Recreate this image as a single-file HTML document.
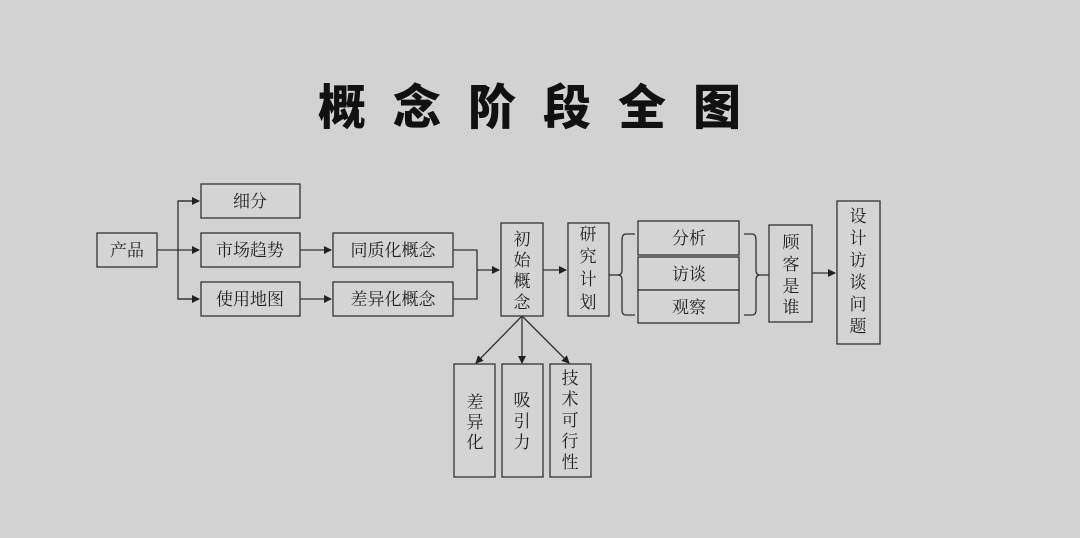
<!DOCTYPE html>
<html><head><meta charset="utf-8"><style>
body{margin:0;background:#d2d2d2;}
svg{display:block}
text{font-family:"Liberation Serif","Noto Serif CJK SC",serif;font-size:17px;fill:#222;}
.t{font-family:"Liberation Sans","Noto Sans CJK SC",sans-serif;font-size:48px;font-weight:900;fill:#111;}
rect{fill:#d4d4d4;stroke:#333;stroke-width:1.3}
line,path,polyline{stroke:#333;stroke-width:1.3;fill:none}
</style></head><body>
<svg width="1080" height="538" viewBox="0 0 1080 538">
<defs><marker id="a" markerWidth="8" markerHeight="8" refX="7" refY="4" orient="auto" markerUnits="userSpaceOnUse"><path d="M0,0 L8,4 L0,8 z" style="fill:#222;stroke:none"/></marker></defs>
<rect x="0" y="0" width="1080" height="538" style="fill:#d2d2d2;stroke:none"/>
<text class="t" x="318" y="124" letter-spacing="27">概念阶段全图</text>

<rect x="97" y="233" width="60" height="34"/><text x="127" y="256" text-anchor="middle">产品</text>
<rect x="201" y="184" width="99" height="34"/><text x="250" y="207" text-anchor="middle">细分</text>
<rect x="201" y="233" width="99" height="34"/><text x="250" y="256" text-anchor="middle">市场趋势</text>
<rect x="201" y="282" width="99" height="34"/><text x="250" y="305" text-anchor="middle">使用地图</text>
<rect x="333" y="233" width="120" height="34"/><text x="393" y="256" text-anchor="middle">同质化概念</text>
<rect x="333" y="282" width="120" height="34"/><text x="393" y="305" text-anchor="middle">差异化概念</text>

<line x1="157" y1="250" x2="199" y2="250" marker-end="url(#a)"/>
<polyline points="199,201 178,201 178,299 199,299"/>
<line x1="178" y1="201" x2="199" y2="201" marker-end="url(#a)"/>
<line x1="178" y1="299" x2="199" y2="299" marker-end="url(#a)"/>
<line x1="300" y1="250" x2="331" y2="250" marker-end="url(#a)"/>
<line x1="300" y1="299" x2="331" y2="299" marker-end="url(#a)"/>
<polyline points="453,250 477,250 477,299 453,299"/>
<line x1="477" y1="270" x2="499" y2="270" marker-end="url(#a)"/>

<rect x="501" y="223" width="42" height="93"/>
<text x="522" y="245" text-anchor="middle">初</text><text x="522" y="266" text-anchor="middle">始</text><text x="522" y="287" text-anchor="middle">概</text><text x="522" y="308" text-anchor="middle">念</text>
<line x1="543" y1="270" x2="566" y2="270" marker-end="url(#a)"/>
<rect x="568" y="223" width="41" height="93"/>
<text x="588" y="240" text-anchor="middle">研</text><text x="588" y="262" text-anchor="middle">究</text><text x="588" y="285" text-anchor="middle">计</text><text x="588" y="308" text-anchor="middle">划</text>

<line x1="609" y1="275" x2="620" y2="275"/>
<path d="M635,234 L626,234 Q622,234 622,240 L622,270 Q622,275 618,275 Q622,275 622,280 L622,310 Q622,315 626,315 L635,315"/>
<rect x="638" y="221" width="101" height="34"/><text x="689" y="244" text-anchor="middle">分析</text>
<rect x="638" y="257" width="101" height="33"/><text x="689" y="280" text-anchor="middle">访谈</text>
<rect x="638" y="290" width="101" height="33"/><text x="689" y="313" text-anchor="middle">观察</text>
<path d="M744,234 L752,234 Q756,234 756,240 L756,270 Q756,275 760,275 Q756,275 756,280 L756,310 Q756,315 752,315 L744,315"/>
<line x1="760" y1="275" x2="769" y2="275"/>

<rect x="769" y="225" width="43" height="97"/>
<text x="791" y="248" text-anchor="middle">顾</text><text x="791" y="270" text-anchor="middle">客</text><text x="791" y="292" text-anchor="middle">是</text><text x="791" y="313" text-anchor="middle">谁</text>
<line x1="812" y1="273" x2="835" y2="273" marker-end="url(#a)"/>
<rect x="837" y="201" width="43" height="143"/>
<text x="858" y="222" text-anchor="middle">设</text><text x="858" y="244" text-anchor="middle">计</text><text x="858" y="266" text-anchor="middle">访</text><text x="858" y="288" text-anchor="middle">谈</text><text x="858" y="310" text-anchor="middle">问</text><text x="858" y="332" text-anchor="middle">题</text>

<line x1="522" y1="316" x2="476" y2="363" marker-end="url(#a)"/>
<line x1="522" y1="316" x2="522" y2="363" marker-end="url(#a)"/>
<line x1="522" y1="316" x2="569" y2="363" marker-end="url(#a)"/>
<rect x="454" y="364" width="41" height="113"/>
<text x="475" y="408" text-anchor="middle">差</text><text x="475" y="428" text-anchor="middle">异</text><text x="475" y="448" text-anchor="middle">化</text>
<rect x="502" y="364" width="41" height="113"/>
<text x="522" y="406" text-anchor="middle">吸</text><text x="522" y="427" text-anchor="middle">引</text><text x="522" y="448" text-anchor="middle">力</text>
<rect x="550" y="364" width="41" height="113"/>
<text x="570" y="384" text-anchor="middle">技</text><text x="570" y="405" text-anchor="middle">术</text><text x="570" y="426" text-anchor="middle">可</text><text x="570" y="447" text-anchor="middle">行</text><text x="570" y="468" text-anchor="middle">性</text>
</svg>
</body></html>
